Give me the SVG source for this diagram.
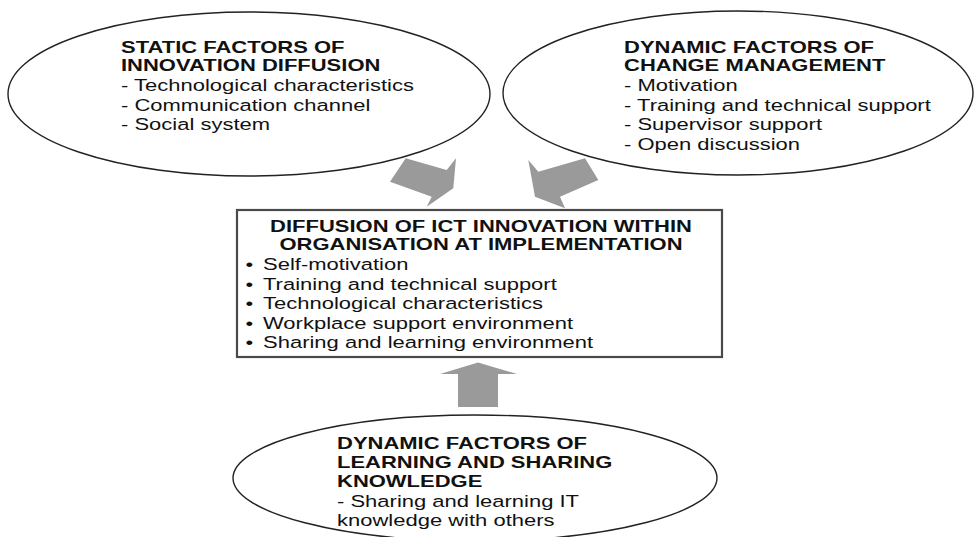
<svg xmlns="http://www.w3.org/2000/svg" width="974" height="537" viewBox="0 0 974 537">
<style>
.ell{fill:#fff;stroke:#222;stroke-width:1.4}
.box{fill:#fff;stroke:#4a4a4a;stroke-width:2.2}
.arr{fill:#9a9a9a;stroke:none}
text{font-family:"Liberation Sans",Arial,sans-serif;font-size:16.5px;fill:#111}
.b{font-weight:bold}
.c{text-anchor:middle}
</style>
<rect width="974" height="537" fill="#fff"/>
<g id="connectors">
<polygon class="arr" points="405.7,158.3 446.7,170 456,158.3 453.3,188.3 426.7,206.7 431.7,196.7 390,181.7"/>
<polygon class="arr" points="528.3,160 535,196.7 565,208.3 560,196.7 598.3,180 585,158.3 538.3,171.7"/>
<polygon class="arr" points="478,362.5 517,374 498,374 498,407 458,407 458,374 440,374"/>
</g>
<g id="static-factors">
<ellipse class="ell" cx="249" cy="94" rx="241" ry="82"/>
<text class="b" transform="matrix(1.333 0 0 1 121 53)">STATIC FACTORS OF</text>
<text class="b" transform="matrix(1.333 0 0 1 121 70.5)">INNOVATION DIFFUSION</text>
<text transform="matrix(1.333 0 0 1 121 91)">- Technological characteristics</text>
<text transform="matrix(1.333 0 0 1 121 110.5)">- Communication channel</text>
<text transform="matrix(1.333 0 0 1 121 130)">- Social system</text>
</g>
<g id="change-management">
<ellipse class="ell" cx="738" cy="93" rx="235" ry="82"/>
<text class="b" transform="matrix(1.333 0 0 1 624 53)">DYNAMIC FACTORS OF</text>
<text class="b" transform="matrix(1.333 0 0 1 624 70.5)">CHANGE MANAGEMENT</text>
<text transform="matrix(1.333 0 0 1 624 91)">- Motivation</text>
<text transform="matrix(1.333 0 0 1 624 110.5)">- Training and technical support</text>
<text transform="matrix(1.333 0 0 1 624 130)">- Supervisor support</text>
<text transform="matrix(1.333 0 0 1 624 149.5)">- Open discussion</text>
</g>
<g id="diffusion-box">
<rect class="box" x="237" y="210" width="485" height="147"/>
<text class="b c" transform="matrix(1.333 0 0 1 481 232)">DIFFUSION OF ICT INNOVATION WITHIN</text>
<text class="b c" transform="matrix(1.333 0 0 1 481 250)">ORGANISATION AT IMPLEMENTATION</text>
<text transform="matrix(1.333 0 0 1 245.5 270)">•</text>
<text transform="matrix(1.333 0 0 1 263 270)">Self-motivation</text>
<text transform="matrix(1.333 0 0 1 245.5 289.5)">•</text>
<text transform="matrix(1.333 0 0 1 263 289.5)">Training and technical support</text>
<text transform="matrix(1.333 0 0 1 245.5 309)">•</text>
<text transform="matrix(1.333 0 0 1 263 309)">Technological characteristics</text>
<text transform="matrix(1.333 0 0 1 245.5 328.5)">•</text>
<text transform="matrix(1.333 0 0 1 263 328.5)">Workplace support environment</text>
<text transform="matrix(1.333 0 0 1 245.5 348)">•</text>
<text transform="matrix(1.333 0 0 1 263 348)">Sharing and learning environment</text>
</g>
<g id="learning-sharing">
<ellipse class="ell" cx="475" cy="478" rx="242" ry="63"/>
<text class="b" transform="matrix(1.333 0 0 1 337 449)">DYNAMIC FACTORS OF</text>
<text class="b" transform="matrix(1.333 0 0 1 337 468)">LEARNING AND SHARING</text>
<text class="b" transform="matrix(1.333 0 0 1 337 487)">KNOWLEDGE</text>
<text transform="matrix(1.333 0 0 1 337 507)">- Sharing and learning IT</text>
<text transform="matrix(1.333 0 0 1 337 526)">knowledge with others</text>
</g>
</svg>
